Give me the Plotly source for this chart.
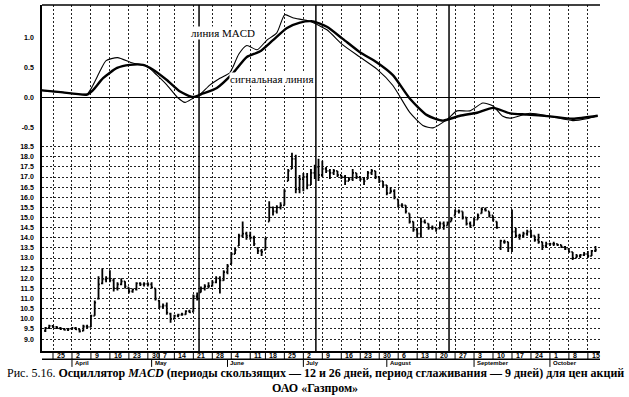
import plotly.graph_objects as go

# ---------------- data ----------------
trading_day = list(range(-2, 144))
price_open = [9.40, 9.55, 9.65, 9.60, 9.55, 9.50, 9.45, 9.50, 9.55, 9.48, 9.40, 9.62,
              9.60, 10.15, 11.00, 11.75, 11.95, 12.00, 11.90, 11.50, 11.70, 11.85, 11.55, 11.35,
              11.45, 11.75, 11.70, 11.72, 11.70, 11.50, 10.90, 10.60, 10.65, 10.25, 10.00, 10.15,
              10.20, 10.22, 10.38, 10.35, 11.10, 11.30, 11.50, 11.60, 11.62, 11.80, 12.00, 11.90,
              12.30, 12.70, 13.20, 13.60, 14.10, 14.20, 14.10, 14.00, 13.50, 13.35, 13.40, 14.80,
              15.50, 15.30, 15.50, 15.60, 16.80, 17.40, 17.90, 16.40, 16.90, 17.00, 16.60, 17.20,
              17.50, 17.10, 17.40, 17.30, 17.20, 17.30, 17.10, 17.00, 16.80, 16.90, 17.20, 17.00,
              16.90, 16.90, 17.20, 17.30, 17.00, 16.80, 16.60, 16.20, 16.30, 15.90, 15.60, 15.60,
              15.20, 14.80, 14.40, 14.20, 14.80, 14.70, 14.50, 14.50, 14.45, 14.70, 14.60, 14.80,
              15.10, 15.30, 15.30, 15.00, 14.70, 14.60, 14.90, 15.20, 15.40, 15.30, 15.10, 14.80,
              13.50, 13.80, 13.80, 13.50, 14.30, 14.10, 14.10, 14.20, 14.30, 14.10, 13.90, 13.80,
              13.60, 13.70, 13.70, 13.70, 13.65, 13.55, 13.45, 13.30, 13.00, 13.10, 13.15, 13.20,
              13.10, 13.35]
price_high = [9.60, 9.70, 9.68, 9.65, 9.60, 9.55, 9.55, 9.58, 9.60, 9.50, 9.70, 9.70,
              10.20, 10.90, 12.10, 12.50, 12.10, 12.40, 12.00, 11.80, 12.00, 11.85, 11.55, 11.50,
              11.80, 11.80, 11.80, 11.80, 11.80, 11.50, 10.90, 10.75, 10.80, 10.30, 10.20, 10.25,
              10.30, 10.42, 10.45, 11.20, 11.30, 11.60, 11.70, 11.80, 11.90, 12.10, 12.10, 12.40,
              12.70, 13.30, 13.50, 14.20, 14.80, 14.30, 14.30, 14.10, 13.50, 13.45, 14.00, 15.80,
              15.55, 15.60, 15.75, 16.40, 17.40, 18.20, 18.10, 17.10, 17.20, 17.20, 17.40, 17.60,
              17.90, 17.80, 17.50, 17.40, 17.40, 17.30, 17.10, 17.10, 17.00, 17.40, 17.20, 17.00,
              17.00, 17.30, 17.40, 17.30, 17.00, 16.80, 16.60, 16.50, 16.40, 15.90, 15.70, 15.60,
              15.20, 14.80, 14.50, 15.00, 14.90, 14.70, 14.60, 14.50, 14.80, 14.80, 14.80, 15.00,
              15.40, 15.40, 15.30, 15.00, 14.80, 15.00, 15.20, 15.50, 15.50, 15.30, 15.10, 14.80,
              13.90, 13.90, 13.80, 15.40, 14.50, 14.20, 14.30, 14.40, 14.40, 14.10, 14.20, 13.80,
              13.80, 13.75, 13.80, 13.70, 13.65, 13.60, 13.50, 13.30, 13.20, 13.20, 13.30, 13.35,
              13.40, 13.60]
price_low = [9.35, 9.50, 9.55, 9.50, 9.45, 9.42, 9.40, 9.45, 9.45, 9.32, 9.38, 9.52,
             9.58, 10.15, 10.95, 11.70, 11.80, 11.80, 11.35, 11.40, 11.65, 11.50, 11.25, 11.28,
             11.40, 11.62, 11.60, 11.60, 11.50, 10.90, 10.50, 10.50, 10.20, 9.80, 9.98, 10.08,
             10.15, 10.20, 10.28, 10.35, 10.90, 11.30, 11.40, 11.50, 11.60, 11.75, 11.25, 11.88,
             12.20, 12.70, 13.20, 13.60, 14.00, 13.90, 13.90, 13.60, 13.20, 13.10, 13.40, 14.80,
             15.10, 15.20, 15.40, 15.60, 16.80, 17.40, 16.20, 16.20, 16.30, 16.40, 16.60, 16.90,
             16.80, 17.00, 17.20, 16.90, 17.10, 17.00, 16.90, 16.60, 16.80, 16.80, 16.90, 16.80,
             16.60, 16.90, 17.10, 16.90, 16.70, 16.50, 16.10, 16.20, 15.90, 15.50, 15.50, 15.20,
             14.70, 14.30, 14.00, 14.00, 14.70, 14.40, 14.40, 14.30, 14.45, 14.40, 14.60, 14.80,
             15.10, 15.20, 14.90, 14.60, 14.50, 14.60, 14.90, 15.20, 15.30, 15.00, 14.80, 14.45,
             13.40, 13.70, 13.30, 13.30, 14.00, 13.90, 14.00, 14.10, 14.00, 13.80, 13.70, 13.40,
             13.50, 13.60, 13.60, 13.60, 13.50, 13.40, 13.30, 12.90, 13.00, 13.00, 13.10, 13.00,
             13.10, 13.30]
price_close = [9.55, 9.65, 9.60, 9.55, 9.50, 9.45, 9.50, 9.55, 9.48, 9.38, 9.62, 9.60,
               10.15, 10.80, 11.70, 11.95, 12.00, 11.90, 11.50, 11.70, 11.85, 11.60, 11.35, 11.45,
               11.75, 11.70, 11.72, 11.70, 11.55, 11.00, 10.60, 10.65, 10.30, 10.00, 10.15, 10.20,
               10.22, 10.38, 10.32, 11.10, 11.00, 11.50, 11.60, 11.62, 11.80, 12.00, 11.90, 12.30,
               12.60, 13.20, 13.40, 14.10, 14.20, 14.10, 14.00, 13.70, 13.35, 13.30, 13.95, 15.50,
               15.30, 15.50, 15.60, 16.30, 17.30, 17.90, 16.40, 16.90, 17.00, 16.60, 17.20, 17.50,
               17.10, 17.40, 17.30, 17.20, 17.30, 17.10, 17.00, 16.80, 16.90, 17.20, 17.00, 16.90,
               16.80, 17.20, 17.30, 17.00, 16.80, 16.60, 16.20, 16.30, 16.00, 15.60, 15.60, 15.30,
               14.80, 14.40, 14.20, 14.80, 14.75, 14.50, 14.50, 14.45, 14.70, 14.60, 14.75, 14.95,
               15.30, 15.30, 15.00, 14.70, 14.60, 14.90, 15.10, 15.40, 15.35, 15.10, 14.90, 14.50,
               13.85, 13.80, 13.50, 14.30, 14.10, 14.10, 14.20, 14.30, 14.10, 13.90, 13.80, 13.60,
               13.70, 13.70, 13.70, 13.65, 13.55, 13.45, 13.30, 13.00, 13.10, 13.15, 13.20, 13.10,
               13.35, 13.40]

macd_day = [-3, 2, 9, 10.5, 12.5, 14, 17, 21, 24.7, 27.4, 30, 32.7, 34.8, 36.9, 38.7,
            41.4, 44, 46.6, 47.4, 49, 51.1, 53.8, 56.4, 59, 61.1, 63.2, 67.7, 72.2, 76.4,
            80.9, 85.4, 89.6, 94.1, 97.5, 100.2, 103.9, 106.5, 109.9, 113.3, 116, 118.6,
            120.5, 125.7, 131, 137, 140.7, 143.6]
macd_line = [0.12, 0.09, 0.06, 0.20, 0.45, 0.61, 0.66, 0.57, 0.52, 0.37, 0.21, 0.01, -0.08,
             -0.01, 0.05, 0.21, 0.32, 0.41, 0.50, 0.72, 0.86, 0.79, 0.95, 1.07, 1.37, 1.32,
             1.26, 1.12, 0.87, 0.67, 0.47, 0.20, -0.25, -0.46, -0.50, -0.36, -0.22, -0.22,
             -0.09, -0.14, -0.31, -0.34, -0.26, -0.31, -0.38, -0.35, -0.30]
signal_day = [-3, 2, 9, 10.5, 13.2, 16.9, 20.3, 23.7, 26.4, 30, 33.5, 36.9, 39.6, 43.2,
              47.4, 51.1, 54.5, 58, 61.7, 65.1, 68.5, 72.2, 76.4, 80.9, 85.4, 89.6, 94.1,
              98.6, 102.8, 107.3, 111.8, 116, 120.5, 124.9, 131, 137, 143.6]
signal_line = [0.12, 0.09, 0.05, 0.12, 0.32, 0.49, 0.54, 0.54, 0.46, 0.29, 0.10, 0.01, 0.07,
               0.16, 0.40, 0.67, 0.76, 0.95, 1.15, 1.24, 1.26, 1.17, 0.97, 0.75, 0.58, 0.37,
               -0.02, -0.29, -0.38, -0.30, -0.25, -0.17, -0.26, -0.28, -0.31, -0.35, -0.30]

crossover_day = [38.5, 69.3, 104.4]

week_day = [0, 5, 10, 15, 20, 25, 28, 32, 37, 42, 47, 52, 56, 61, 66, 71, 76, 81, 86, 91,
            96, 101, 106, 111, 116, 121, 126, 131, 136, 141]
week_label = ['25', '2', '9', '16', '23', '30', '7', '14', '21', '28', '4', '11', '18', '25',
              '2', '9', '16', '23', '30', '6', '13', '20', '27', '3', '10', '17', '24', '1',
              '8', '15']
month_day = [5, 26, 46, 66, 88, 111, 131]
month_label = ['April', 'May', 'June', 'July', 'August', 'September', 'October']

price_ticks = [9.0, 9.5, 10.0, 10.5, 11.0, 11.5, 12.0, 12.5, 13.0, 13.5, 14.0, 14.5, 15.0,
               15.5, 16.0, 16.5, 17.0, 17.5, 18.0, 18.5]
macd_ticks = [-0.5, 0.0, 0.5, 1.0]

caption_1 = ("Рис. 5.16. <b>Осциллятор <i>MACD</i> (периоды скользящих — 12 и 26 дней, "
             "период сглаживания — 9 дней) для цен акций</b>")
caption_2 = "<b>ОАО «Газпром»</b>"

# ---------------- figure ----------------
fig = go.Figure()
fig.add_trace(go.Ohlc(x=trading_day, open=price_open, high=price_high, low=price_low,
                      close=price_close, xaxis='x', yaxis='y', tickwidth=0.35,
                      increasing=dict(line=dict(color='black', width=1.8)),
                      decreasing=dict(line=dict(color='black', width=1.8)),
                      hoverinfo='skip'))
fig.add_trace(go.Scatter(x=macd_day, y=macd_line, mode='lines', xaxis='x', yaxis='y2',
                         line=dict(color='black', width=1.1, shape='spline', smoothing=0.6)))
fig.add_trace(go.Scatter(x=signal_day, y=signal_line, mode='lines', xaxis='x', yaxis='y2',
                         line=dict(color='black', width=2.4, shape='spline', smoothing=0.6)))

tickfont = dict(family='Liberation Sans Narrow, Liberation Sans, Arial', size=7,
                color='black', weight='bold')
grid = dict(showgrid=True, gridcolor='#222222', gridwidth=1, griddash='2px,2px')

fig.update_layout(
    width=629, height=397,
    margin=dict(l=42, r=29, t=5, b=46),
    paper_bgcolor='white', plot_bgcolor='white',
    showlegend=False,
    xaxis=dict(range=[-2.9, 144.2], tickvals=week_day, showticklabels=False, ticks='',
               showline=True, linecolor='black', linewidth=2, zeroline=False,
               rangeslider=dict(visible=False), anchor='y', **grid),
    yaxis=dict(domain=[0, 0.61], range=[8.41, 18.83], tickvals=price_ticks,
               ticktext=[f'{v:.1f}' for v in price_ticks], tickfont=tickfont, ticks='',
               showline=True, linecolor='black', linewidth=1.5, zeroline=False,
               ticklabelstandoff=5, anchor='x', **grid),
    yaxis2=dict(domain=[0.61, 1], range=[-0.70, 1.53], tickvals=macd_ticks,
                ticktext=[f'{v:.1f}' for v in macd_ticks], tickfont=tickfont, ticks='',
                showgrid=False, showline=True, linecolor='black', linewidth=1.5,
                zeroline=True, zerolinecolor='black', zerolinewidth=1,
                ticklabelstandoff=5, anchor='x'),
)

shapes = []
shapes.append(dict(type='line', xref='paper', yref='paper', x0=0, x1=1, y0=1, y1=1,
                   line=dict(color='black', width=1.5)))
for d in crossover_day:
    shapes.append(dict(type='line', xref='x', yref='paper', x0=d, x1=d, y0=0, y1=1,
                       line=dict(color='black', width=1.5)))
box_bottom = -0.024
for d in week_day:
    shapes.append(dict(type='line', xref='x', yref='paper', x0=d, x1=d, y0=0, y1=box_bottom,
                       line=dict(color='black', width=1)))
shapes.append(dict(type='line', xref='x', yref='paper', x0=-2.9, x1=144.2,
                   y0=box_bottom, y1=box_bottom, line=dict(color='black', width=1.5)))
for d in month_day:
    shapes.append(dict(type='line', xref='x', yref='paper', x0=d, x1=d, y0=box_bottom,
                       y1=-0.046, line=dict(color='black', width=1)))
fig.update_layout(shapes=shapes)

small_font = dict(family='Liberation Sans Narrow, Liberation Sans', color='black',
                  weight='bold')
ann = []
for d, lab in zip(week_day, week_label):
    ann.append(dict(x=d, y=box_bottom / 2, xref='x', yref='paper', text=lab, showarrow=False,
                    xanchor='left', yanchor='middle', xshift=2,
                    font=dict(size=7, **small_font)))
for d, lab in zip(month_day, month_label):
    ann.append(dict(x=d, y=-0.036, xref='x', yref='paper', text=lab, showarrow=False,
                    xanchor='left', yanchor='middle', xshift=1,
                    font=dict(size=6, **small_font)))
ann.append(dict(x=44.8, y=1.07, xref='x', yref='y2', text='линия MACD', showarrow=False,
                bgcolor='white', borderpad=0,
                font=dict(family='Liberation Serif, Times New Roman', size=11, color='black')))
ann.append(dict(x=57.5, y=0.30, xref='x', yref='y2', text='сигнальная линия', showarrow=False,
                bgcolor='white', borderpad=0,
                font=dict(family='Liberation Serif, Times New Roman', size=11, color='black')))
ann.append(dict(x=0.491, y=-0.0636, xref='paper', yref='paper', text=caption_1,
                showarrow=False, xanchor='center', yanchor='middle',
                font=dict(family='Liberation Serif, Times New Roman', size=12, color='black')))
ann.append(dict(x=0.489, y=-0.107, xref='paper', yref='paper', text=caption_2,
                showarrow=False, xanchor='center', yanchor='middle',
                font=dict(family='Liberation Serif, Times New Roman', size=12, color='black')))
fig.update_layout(annotations=ann)

fig.write_html('out.html', config={'displayModeBar': False},
               post_script="document.body.style.margin='0';")
